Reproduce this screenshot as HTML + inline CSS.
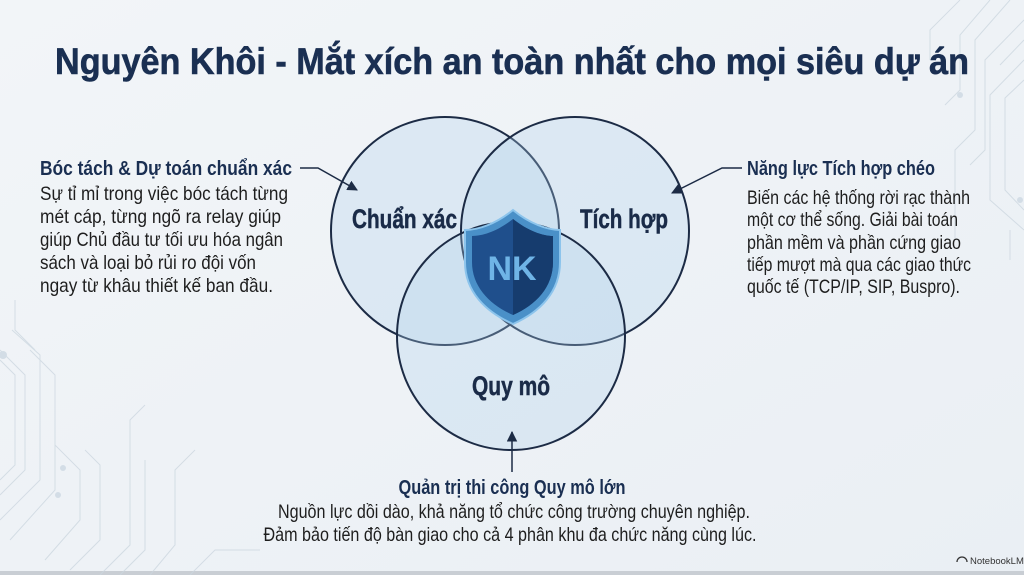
<!DOCTYPE html>
<html><head><meta charset="utf-8"><style>
html,body{margin:0;padding:0;background:#eef2f6;}
svg{display:block}
.t{font-family:"Liberation Sans Narrow","Liberation Sans",sans-serif;}
</style></head><body>
<svg width="1024" height="575" viewBox="0 0 1024 575" xmlns="http://www.w3.org/2000/svg" class="t">
<defs>
<linearGradient id="bg" x1="0" y1="0" x2="1" y2="1"><stop offset="0" stop-color="#f2f5f8"/><stop offset="1" stop-color="#eaeff4"/></linearGradient>
<marker id="ah" viewBox="0 0 10 10" refX="9" refY="5" markerWidth="7" markerHeight="7" orient="auto-start-reverse"><path d="M0,0 L10,5 L0,10 z" fill="#1c2b45"/></marker>
</defs>
<rect width="1024" height="575" fill="url(#bg)"/>
<rect y="571" width="1024" height="4" fill="#c9ced4"/>
<!-- circuit decorations -->
<g stroke="#cbd6df" stroke-width="1" fill="none" opacity="0.75">
<path d="M0,350 L25,375 L25,470 L0,495"/><path d="M0,360 L15,375 L15,465 L0,480"/>
<path d="M12,330 L40,355 L40,480 L0,520"/><path d="M30,350 L55,375 L55,490 L10,540"/>
<path d="M45,560 L80,520 L80,470 L55,445"/><path d="M70,570 L100,540 L100,465 L85,450"/>
<path d="M100,575 L130,545 L130,420 L145,405"/><path d="M120,575 L145,550 L145,460"/>
<path d="M150,575 L175,545 L175,470 L195,450"/><path d="M190,575 L215,550 L260,550"/>
<path d="M15,300 L15,330 L35,350"/>
<path d="M1024,60 L990,95 L990,200 L1024,230"/><path d="M1024,80 L1005,98 L1005,190 L1024,210"/>
<path d="M960,0 L930,30 L930,60"/><path d="M990,0 L960,35 L960,90 L945,105"/>
<path d="M1010,0 L975,40 L975,130 L955,150 L955,240"/><path d="M1024,20 L985,60 L985,150 L970,165"/>
<path d="M1024,40 L1000,65"/><path d="M1010,230 L1010,260"/>
</g>
<g fill="#d3dde6"><circle cx="3" cy="355" r="4"/><circle cx="63" cy="468" r="3"/><circle cx="58" cy="495" r="3"/><circle cx="960" cy="95" r="3"/><circle cx="1020" cy="200" r="3"/></g>

<!-- title -->
<text x="512" y="74" text-anchor="middle" font-size="37" font-weight="bold" fill="#1a2f52" font-family="Liberation Sans, sans-serif" textLength="914" lengthAdjust="spacingAndGlyphs" stroke="#1a2f52" stroke-width="0.6">Nguyên Khôi - Mắt xích an toàn nhất cho mọi siêu dự án</text>

<!-- circles -->
<g fill="rgba(175,208,234,0.3)" stroke="#1c2b45" stroke-width="2">
<circle cx="445" cy="231" r="114"/>
<circle cx="575" cy="231" r="114"/>
<circle cx="511" cy="336" r="114"/>
</g>

<!-- shield -->
<g>
<path d="M513,210 C530,224 548,230 560,230 L560,262 C560,292 540,312 513,324 C486,312 465,292 465,262 L465,230 C478,230 496,224 513,210 Z" fill="#4a90c8" stroke="#8cc4ec" stroke-width="2"/>
<path d="M513,219 C528,231 543,236 553,236 L553,262 C553,287 536,305 513,315 C490,305 472,287 472,262 L472,236 C483,236 498,231 513,219 Z" fill="#1f4f8c"/>
<path d="M513,219 L513,315 C536,305 553,287 553,262 L553,236 C543,236 528,231 513,219 Z" fill="#163c6e"/>
<text x="512" y="280" text-anchor="middle" font-size="34" font-weight="bold" fill="#6fb4e6" font-family="Liberation Sans, sans-serif">NK</text>
</g>

<!-- circle labels -->
<g font-weight="bold" fill="#1a2b48" font-size="27" stroke="#1a2b48" stroke-width="0.5">
<text x="352" y="228" textLength="105" lengthAdjust="spacingAndGlyphs">Chuẩn xác</text>
<text x="580" y="228" textLength="88" lengthAdjust="spacingAndGlyphs">Tích hợp</text>
<text x="472" y="395" textLength="78" lengthAdjust="spacingAndGlyphs">Quy mô</text>
</g>

<!-- connectors -->
<g stroke="#1c2b45" stroke-width="1.5" fill="none">
<path d="M300,168 L318,168 L357,190" marker-end="url(#ah)"/>
<path d="M742,168 L722,168 L672,193" marker-end="url(#ah)"/>
<path d="M512,472 L512,432" marker-end="url(#ah)"/>
</g>

<!-- left text -->
<text x="40" y="175" font-size="20" font-weight="bold" fill="#1a2f52" textLength="252" lengthAdjust="spacingAndGlyphs">Bóc tách &amp; Dự toán chuẩn xác</text>
<g font-size="19.5" fill="#1e1e1e">
<text x="40" y="200" textLength="248" lengthAdjust="spacingAndGlyphs">Sự tỉ mỉ trong việc bóc tách từng</text>
<text x="40" y="223" textLength="241" lengthAdjust="spacingAndGlyphs">mét cáp, từng ngõ ra relay giúp</text>
<text x="40" y="246" textLength="243" lengthAdjust="spacingAndGlyphs">giúp Chủ đầu tư tối ưu hóa ngân</text>
<text x="40" y="269" textLength="216" lengthAdjust="spacingAndGlyphs">sách và loại bỏ rủi ro đội vốn</text>
<text x="40" y="292" textLength="233" lengthAdjust="spacingAndGlyphs">ngay từ khâu thiết kế ban đầu.</text>
</g>

<!-- right text -->
<text x="747" y="175" font-size="20" font-weight="bold" fill="#1a2f52" textLength="188" lengthAdjust="spacingAndGlyphs">Năng lực Tích hợp chéo</text>
<g font-size="19.5" fill="#1e1e1e">
<text x="747" y="204" textLength="223" lengthAdjust="spacingAndGlyphs">Biến các hệ thống rời rạc thành</text>
<text x="747" y="226" textLength="211" lengthAdjust="spacingAndGlyphs">một cơ thể sống. Giải bài toán</text>
<text x="747" y="249" textLength="214" lengthAdjust="spacingAndGlyphs">phần mềm và phần cứng giao</text>
<text x="747" y="271" textLength="224" lengthAdjust="spacingAndGlyphs">tiếp mượt mà qua các giao thức</text>
<text x="747" y="293" textLength="213" lengthAdjust="spacingAndGlyphs">quốc tế (TCP/IP, SIP, Buspro).</text>
</g>

<!-- bottom text -->
<text x="512" y="494" text-anchor="middle" font-size="20" font-weight="bold" fill="#1a2f52" textLength="227" lengthAdjust="spacingAndGlyphs">Quản trị thi công Quy mô lớn</text>
<g font-size="19.5" fill="#1e1e1e" text-anchor="middle">
<text x="514" y="518" textLength="472" lengthAdjust="spacingAndGlyphs">Nguồn lực dồi dào, khả năng tổ chức công trường chuyên nghiệp.</text>
<text x="510" y="541" textLength="493" lengthAdjust="spacingAndGlyphs">Đảm bảo tiến độ bàn giao cho cả 4 phân khu đa chức năng cùng lúc.</text>
</g>

<!-- watermark -->
<g fill="#333">
<path d="M957,562 a5,5 0 0 1 10,0" stroke="#333" stroke-width="1.3" fill="none"/>
<text x="970" y="564" font-size="9.5" font-family="Liberation Sans, sans-serif">NotebookLM</text>
</g>
</svg>
</body></html>
